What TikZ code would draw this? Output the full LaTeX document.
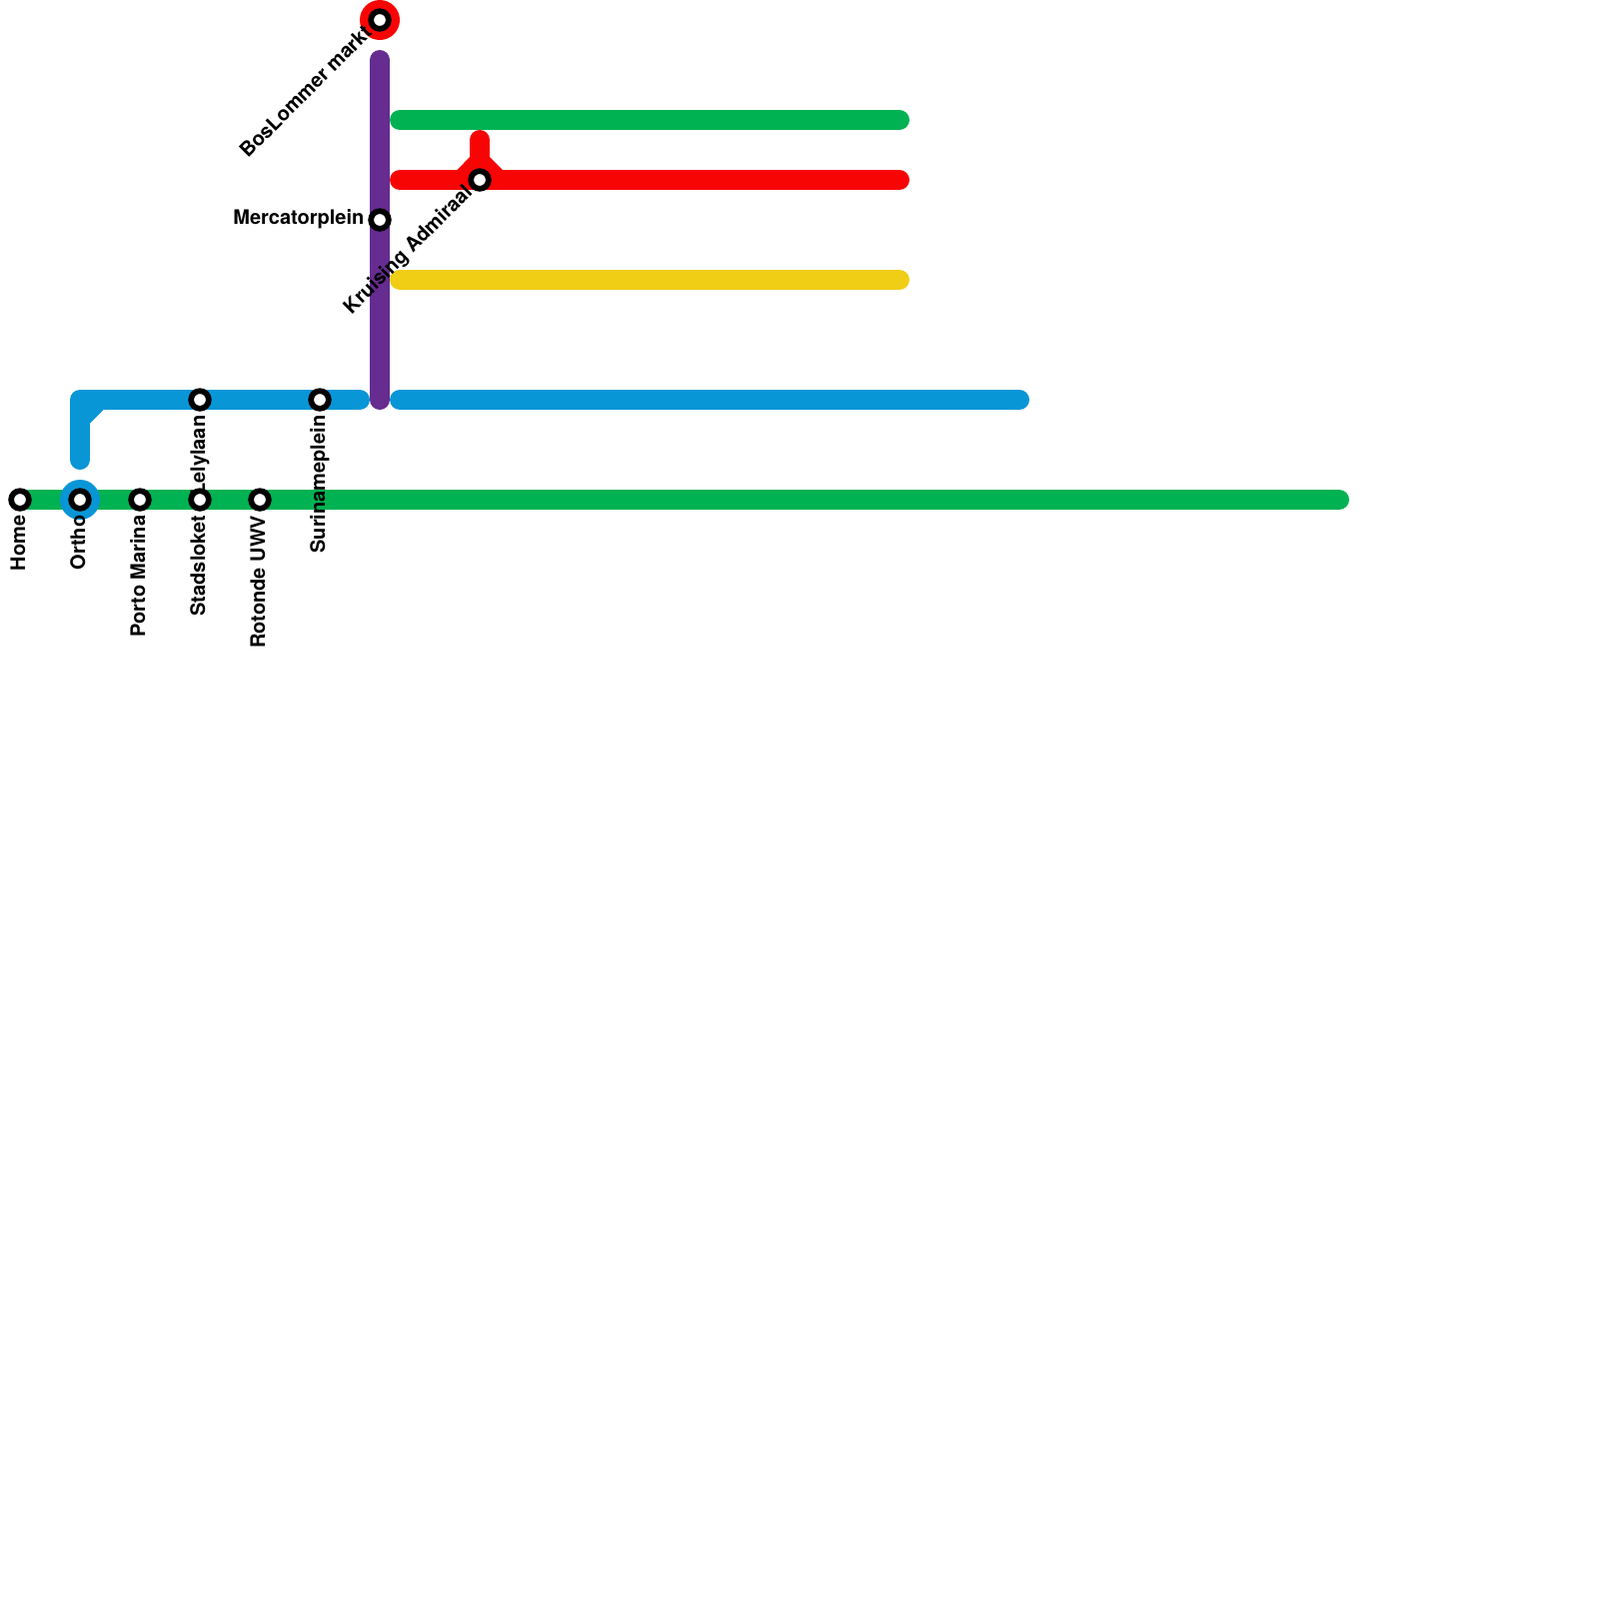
\documentclass[tikz,border=0pt]{standalone}
\usepackage{fontspec}
\setmainfont{TeX Gyre Heros}
\definecolor{mgreen}{HTML}{00B251}
\definecolor{mred}{HTML}{F70505}
\definecolor{myellow}{HTML}{F0CE15}
\definecolor{mblue}{HTML}{0896D7}
\definecolor{mpurple}{HTML}{662C90}
\tikzset{
  x=0.1mm,y=-0.1mm,
  line/.style={line width=2mm,line cap=round,line join=round},
  wedge/.style={fill=#1,draw=none},
  station/.style={circle,draw=black,fill=white,line width=0.57mm,minimum size=1.77mm,inner sep=0pt},
  hub/.style={circle,fill=#1,draw=none,minimum size=4mm,inner sep=0pt},
  lbl/.style={font=\fontsize{5.69}{6.5}\selectfont\bfseries,inner sep=0pt,text=black},
  lbldown/.style={lbl,rotate=90,anchor=base east},
  lbldiag/.style={lbl,rotate=45,anchor=base east},
  lblleft/.style={lbl,anchor=base east}
}
\begin{document}
\begin{tikzpicture}
\useasboundingbox[fill=white] (0,0) rectangle (1600,1600);
% line ends
\coordinate (gA) at (20,500); \coordinate (gB) at (1340,500);
\coordinate (bA) at (80,460); \coordinate (bC) at (80,400); \coordinate (bB) at (360,400);
\coordinate (bD) at (400,400); \coordinate (bE) at (1020,400);
\coordinate (pA) at (380,60); \coordinate (pB) at (380,400);
\coordinate (g2A) at (400,120); \coordinate (g2B) at (900,120);
\coordinate (rA) at (400,180); \coordinate (rB) at (900,180);
\coordinate (yA) at (400,280); \coordinate (yB) at (900,280);
\coordinate (rS) at (480,140); \coordinate (rT) at (480,180);
% lines
\draw[line,mgreen] (gA) -- (gB);
\node[hub=mblue] (orthoHub) at (80,500) {};
\draw[line,mblue] (bA) -- (bC) -- (bB);
\fill[wedge=mblue] (88,408) -- (103.5,410) -- (90,423.5) -- cycle;
\draw[line,mblue] (bD) -- (bE);
\draw[line,mgreen] (g2A) -- (g2B);
\draw[line,mred] (rA) -- (rB);
\draw[line,mred] (rS) -- (rT);
\fill[wedge=mred] (456.5,171) -- (471,156) -- (489,156) -- (504,171) -- cycle;
\draw[line,myellow] (yA) -- (yB);
\draw[line,mpurple] (pA) -- (pB);
\node[hub=mred] (bosHub) at (380,20) {};
% stations
\node[station] (home) at (20,500) {};
\node[station] (ortho) at (80,500) {};
\node[station] (porto) at (140,500) {};
\node[station] (stads) at (200,500) {};
\node[station] (rotonde) at (260,500) {};
\node[station] (lely) at (200,400) {};
\node[station] (suri) at (320,400) {};
\node[station] (bos) at (380,20) {};
\node[station] (merc) at (380,220) {};
\node[station] (kruis) at (480,180) {};
% labels
\node[lbldown] (tHome) at (25,515) {Home};
\node[lbldown] (tOrtho) at (85,515) {Ortho};
\node[lbldown] (tPorto) at (145,515) {Porto Marina};
\node[lbldown] (tStads) at (205,515) {Stadsloket};
\node[lbldown] (tRot) at (265,515) {Rotonde UWV};
\node[lbldown] (tLely) at (205,415) {Lelylaan};
\node[lbldown] (tSuri) at (325,415) {Surinameplein};
\node[lblleft] (tMerc) at (365,224) {Mercatorplein};
\node[lbldiag] (tBos) at (373.5,33.5) {BosLommer markt};
\node[lbldiag] (tKruis) at (474,193) {Kruising Admiraal};
\end{tikzpicture}
\end{document}
